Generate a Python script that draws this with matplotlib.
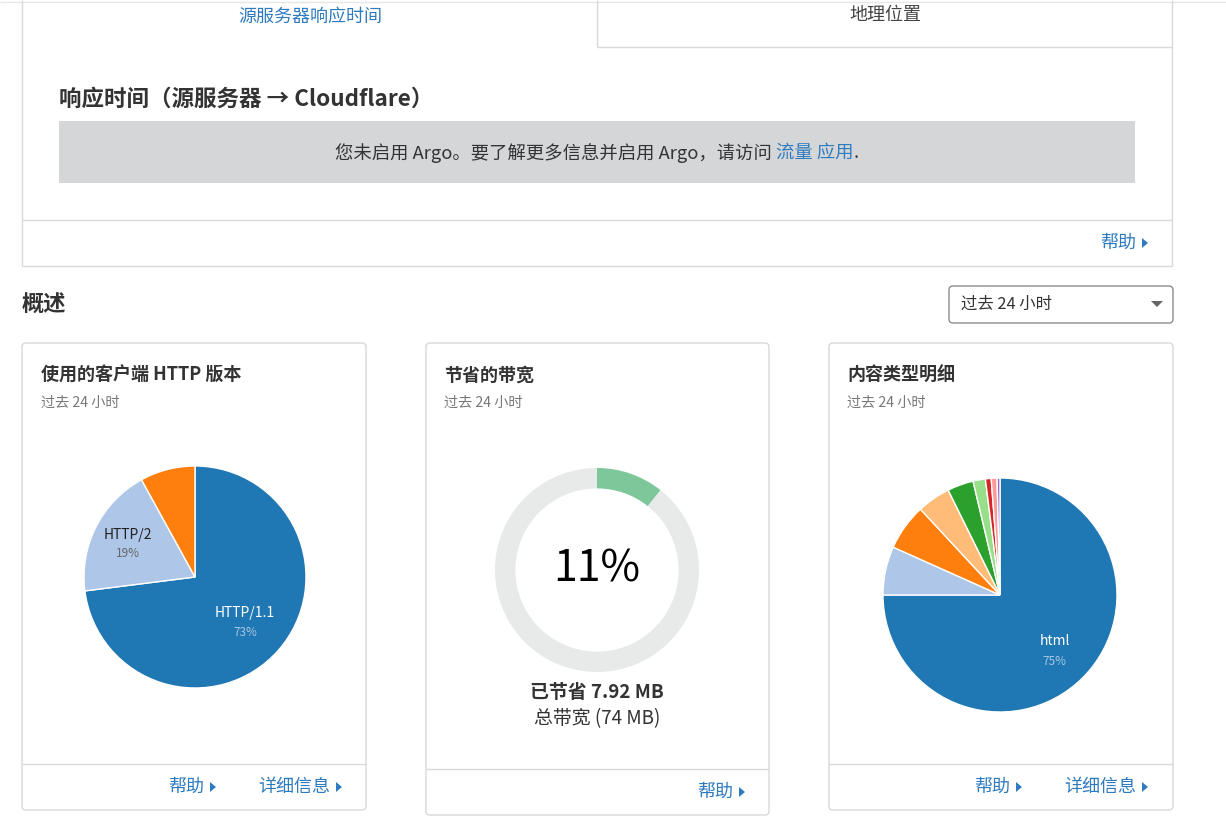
import matplotlib.pyplot as plt
from matplotlib.patches import FancyBboxPatch, Rectangle, Polygon
import numpy as np

plt.rcParams['font.family'] = ['Noto Sans CJK SC', 'DejaVu Sans']

W, H = 1226, 823

# chart data
http_labels = ['HTTP/1.1', 'HTTP/2', '']
http_share = [73, 19, 8]
http_colors = ['#1f77b4', '#aec7e8', '#ff7f0e']

content_labels = ['html', '', '', '', '', '', '', '', '']
content_share = [75, 6.7, 6.4, 4.6, 3.6, 1.7, 0.8, 0.8, 0.4]
content_colors = ['#1f77b4', '#aec7e8', '#ff7f0e', '#ffbb78', '#2ca02c',
                  '#98df8a', '#d62728', '#ff9896', '#9467bd']

saved_mb = 7.92
total_mb = 74

# colours of the page
BLUE = '#2f7bbf'
DARK = '#333333'
GREY = '#777777'
BORDER = '#d9d9d9'

fig = plt.figure(figsize=(W / 100, H / 100), dpi=100)
bg = fig.add_axes([0, 0, 1, 1])
bg.set_xlim(0, W)
bg.set_ylim(H, 0)
bg.axis('off')


def line(x0, y0, x1, y1, color=BORDER, lw=1):
    bg.plot([x0, x1], [y0, y1], color=color, lw=lw, solid_capstyle='butt')


def card(x0, y0, x1, y1, color=BORDER, r=4):
    bg.add_patch(FancyBboxPatch((x0, y0), x1 - x0, y1 - y0,
                                boxstyle='round,pad=0,rounding_size=%d' % r,
                                fc='white', ec=color, lw=1))


def arrow(x, y, color=BLUE):
    bg.add_patch(Polygon([[x - 3, y - 5], [x - 3, y + 5], [x + 3, y]],
                         closed=True, fc=color, ec='none'))


renderer = fig.canvas.get_renderer()


def link_arrow(x, y, s):
    t = bg.text(x, y, s, color=BLUE, fontsize=13, va='center', ha='left')
    bb = t.get_window_extent(renderer)
    arrow(bb.x1 + 9, y)


# ---- top panel with tabs ----
line(0, 1.5, W, 1.5, color='#e6e6e6')
line(22, 0, 22, 266)
line(1172, 0, 1172, 266)
line(22, 266, 1172, 266)
line(597, 0, 597, 47)
line(597, 47, 1172, 47)
bg.text(310, 17, '源服务器响应时间', color=BLUE, fontsize=13, ha='center', va='center')
bg.text(885, 15, '地理位置', color='#444444', fontsize=13, ha='center', va='center')

bg.text(59, 99, '响应时间（源服务器 → Cloudflare）', color=DARK, fontsize=16.2,
        fontweight='bold', ha='left', va='center')
bg.add_patch(Rectangle((59, 121), 1076, 62, fc='#d5d6d8', ec='none'))

parts = [('您未启用 Argo。要了解更多信息并启用 Argo，请访问 ', DARK),
         ('流量 应用', BLUE), ('.', DARK)]
texts = [bg.text(0, 153, s, color=c, fontsize=13.2, va='center', ha='left') for s, c in parts]
widths = [t.get_window_extent(renderer).width for t in texts]
x = 597 - sum(widths) / 2
for t, w in zip(texts, widths):
    t.set_x(x)
    x += w

line(22, 220, 1172, 220)
link_arrow(1100, 243, '帮助')

# ---- overview header ----
bg.text(22, 304, '概述', color=DARK, fontsize=16, fontweight='bold', ha='left', va='center')
card(949, 286, 1173, 323, color='#8c8c8c')
bg.text(961, 304, '过去 24 小时', color=DARK, fontsize=11.8, ha='left', va='center')
bg.add_patch(Polygon([[1151, 301], [1163, 301], [1157, 307]], closed=True,
                     fc='#666666', ec='none'))

# ---- cards ----
card(22, 343, 366, 810)
card(426, 343, 769, 815)
card(829, 343, 1173, 810)

for cx0, title in [(41, '使用的客户端 HTTP 版本'), (444, '节省的带宽'), (847, '内容类型明细')]:
    bg.text(cx0, 375, title, color=DARK, fontsize=13, fontweight='bold', ha='left', va='center')
    bg.text(cx0, 403, '过去 24 小时', color=GREY, fontsize=10.2, ha='left', va='center')

line(22, 764, 366, 764)
line(426, 769, 769, 769)
line(829, 764, 1173, 764)
link_arrow(168, 787, '帮助')
link_arrow(258, 787, '详细信息')
link_arrow(697, 792, '帮助')
link_arrow(974, 787, '帮助')
link_arrow(1064, 787, '详细信息')


def pie_axes(cx, cy, r):
    ax = fig.add_axes([(cx - r) / W, 1 - (cy + r) / H, 2 * r / W, 2 * r / H])
    ax.axis('off')
    return ax


def wedge_label(ax, wedge, name, pct, dist, name_color, pct_color):
    ang = np.deg2rad((wedge.theta1 + wedge.theta2) / 2)
    x, y = dist * np.cos(ang), dist * np.sin(ang)
    ax.text(x, y + 0.07, name, color=name_color, fontsize=10, ha='center', va='center')
    ax.text(x, y - 0.1, '%d%%' % round(pct), color=pct_color, fontsize=8.5,
            ha='center', va='center')


# HTTP versions pie
ax1 = pie_axes(195, 577, 111)
w1, _ = ax1.pie(http_share, colors=http_colors, startangle=90, counterclock=False,
                radius=1, wedgeprops=dict(edgecolor='white', linewidth=1))
ax1.set_xlim(-1, 1)
ax1.set_ylim(-1, 1)
wedge_label(ax1, w1[0], http_labels[0], http_share[0], 0.6, 'white', '#a8c6e2')
wedge_label(ax1, w1[1], http_labels[1], http_share[1], 0.68, '#222222', '#666666')

# saved bandwidth donut
pct_saved = saved_mb / total_mb * 100
ax2 = pie_axes(597, 570, 102)
ax2.pie([pct_saved, 100 - pct_saved], colors=['#7dc79b', '#e8e9e9'], startangle=90,
        counterclock=False, radius=1, wedgeprops=dict(width=0.2, edgecolor='none'))
ax2.set_xlim(-1, 1)
ax2.set_ylim(-1, 1)
ax2.text(0, 0, '%d%%' % round(pct_saved), color='black', fontsize=31, ha='center', va='center')
bg.text(597, 692, '已节省 %.2f MB' % saved_mb, color=DARK, fontsize=13.6,
        fontweight='bold', ha='center', va='center')
bg.text(597, 719, '总带宽 (%d MB)' % total_mb, color=DARK, fontsize=13.6,
        ha='center', va='center')

# content type pie
ax3 = pie_axes(1000, 595, 117)
w3, _ = ax3.pie(content_share, colors=content_colors, startangle=90, counterclock=False,
                radius=1, wedgeprops=dict(edgecolor='white', linewidth=1))
ax3.set_xlim(-1, 1)
ax3.set_ylim(-1, 1)
wedge_label(ax3, w3[0], content_labels[0], content_share[0], 0.66, 'white', '#a8c6e2')

fig.savefig('out.png', dpi=100)
